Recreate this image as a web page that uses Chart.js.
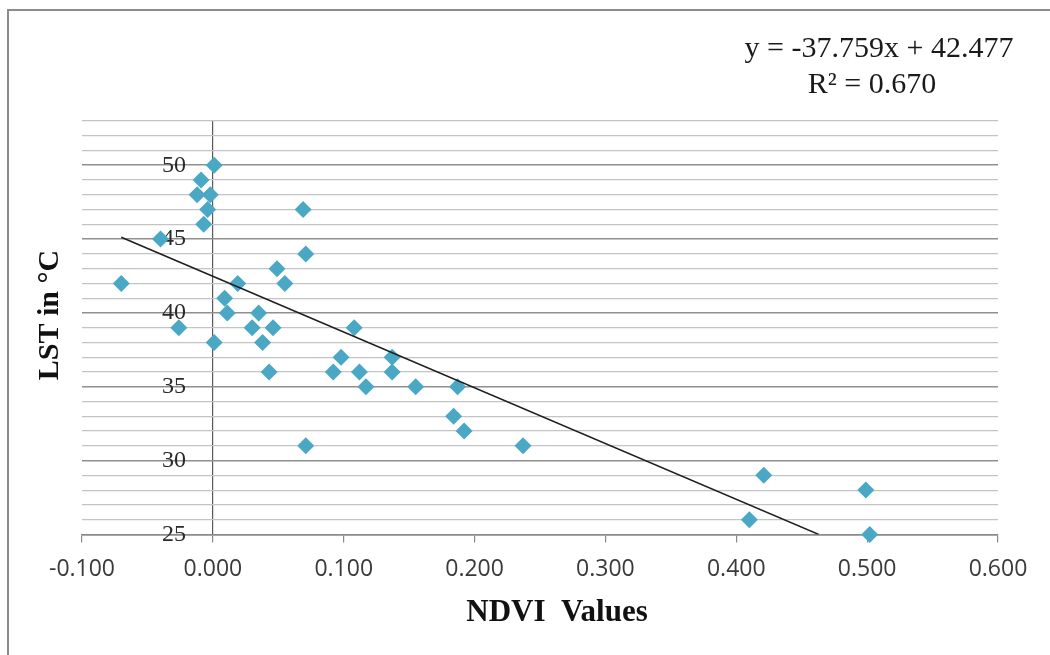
<!DOCTYPE html>
<html>
<head>
<meta charset="utf-8">
<script src="https://cdn.jsdelivr.net/npm/chart.js@4.4.1/dist/chart.umd.min.js"></script>
<style>
  html, body { margin: 0; padding: 0; background: #ffffff; }
  #wrap { width: 1050px; height: 655px; position: relative; }
</style>
</head>
<body>
<div id="wrap"><canvas id="c" width="1050" height="655"></canvas></div>
<script>
// ---- data ----
const ndviValues = [-0.070, -0.040, -0.026, -0.009, -0.012, -0.002, -0.004, -0.007, 0.001, 0.001,
                    0.009, 0.011, 0.019, 0.030, 0.035, 0.038, 0.046, 0.043, 0.049, 0.055,
                    0.069, 0.071, 0.071, 0.108, 0.098, 0.092, 0.112, 0.117, 0.137, 0.137,
                    0.155, 0.187, 0.184, 0.192, 0.237, 0.410, 0.421, 0.499, 0.502];
const lstValues  = [42, 45, 39, 49, 48, 48, 47, 46, 50, 38,
                    41, 40, 42, 39, 40, 38, 39, 36, 43, 42,
                    47, 44, 31, 39, 37, 36, 36, 35, 37, 36,
                    35, 35, 33, 32, 31, 26, 29, 28, 25];
const trendX = [-0.070, 0.463];
const trendY = [45.12, 25.0];
const xTickValues = [-0.1, 0.0, 0.1, 0.2, 0.3, 0.4, 0.5, 0.6];
const yLabelValues = [25, 30, 35, 40, 45, 50];
const equationText = "y = -37.759x + 42.477";
const r2Text = "R\u00B2 = 0.670";
const xTitle = "NDVI  Values";
const yTitle = "LST in \u00B0C";

const scatterPoints = ndviValues.map((x, i) => ({ x: x, y: lstValues[i] }));
const trendPoints = trendX.map((x, i) => ({ x: x, y: trendY[i] }));

const decorPlugin = {
  id: 'decor',
  afterDraw(chart) {
    const ctx = chart.ctx;
    ctx.save();
    // outer frame
    ctx.strokeStyle = '#8c8c8c';
    ctx.lineWidth = 2;
    ctx.beginPath();
    ctx.moveTo(8, 660);
    ctx.lineTo(8, 10);
    ctx.lineTo(1060, 10);
    ctx.stroke();
    // equation
    ctx.fillStyle = '#1a1a1a';
    ctx.font = '30px "Liberation Serif", "Times New Roman", serif';
    ctx.textAlign = 'center';
    ctx.textBaseline = 'alphabetic';
    ctx.fillText(equationText, 879, 57);
    ctx.fillText(r2Text, 872, 93);
    // axis titles
    ctx.fillStyle = '#111';
    ctx.font = 'bold 31px "Liberation Serif", "Times New Roman", serif';
    ctx.textBaseline = 'middle';
    ctx.fillText(xTitle, 557, 613);
    ctx.translate(50, 315);
    ctx.rotate(-Math.PI / 2);
    ctx.font = 'bold 30px "Liberation Serif", "Times New Roman", serif';
    ctx.fillText(yTitle, 0, 0);
    ctx.restore();
  }
};

new Chart(document.getElementById('c'), {
  type: 'scatter',
  data: {
    datasets: [
      {
        type: 'line',
        label: 'Trend',
        data: trendPoints,
        borderColor: '#1f1f1f',
        borderWidth: 1.6,
        pointRadius: 0,
        fill: false,
        order: 0
      },
      {
        label: 'LST',
        data: scatterPoints,
        pointStyle: 'rectRot',
        pointRadius: 8.5,
        pointHoverRadius: 8.5,
        backgroundColor: '#4aa8c4',
        borderColor: '#4aa8c4',
        borderWidth: 0,
        clip: false,
        order: 1
      }
    ]
  },
  options: {
    responsive: false,
    animation: false,
    devicePixelRatio: 1,
    layout: { padding: { left: 82, right: 52, top: 121, bottom: 59 } },
    plugins: { legend: { display: false }, tooltip: { enabled: false } },
    scales: {
      x: {
        type: 'linear',
        min: -0.1,
        max: 0.6,
        afterBuildTicks(scale) { scale.ticks = xTickValues.map(v => ({ value: v })); },
        ticks: {
          callback: v => Number(v).toFixed(3),
          font: { family: '"Open Sans", sans-serif', size: 23 },
          color: '#3a3a3a',
          padding: 13,
          maxRotation: 0,
          autoSkip: false
        },
        grid: {
          drawOnChartArea: true,
          color: ctx => (ctx.tick && Math.abs(ctx.tick.value) < 1e-9) ? '#5a5a5a' : 'rgba(0,0,0,0)',
          lineWidth: 1.2,
          tickColor: '#8a8a8a',
          tickLength: 8,
          drawTicks: true
        },
        border: { display: true, color: '#8a8a8a', width: 1.5 }
      },
      y: {
        type: 'linear',
        position: 'left',
        min: 25,
        max: 53,
        afterFit(scale) { scale.width = 0; },
        ticks: {
          stepSize: 1,
          mirror: true,
          padding: 80,
          callback: v => (yLabelValues.includes(v) ? String(v) : ''),
          font: { family: '"Liberation Serif", "Times New Roman", serif', size: 24 },
          color: '#2a2a2a',
          autoSkip: false
        },
        grid: {
          drawTicks: false,
          color: ctx => (ctx.tick && ctx.tick.value % 5 === 0) ? '#8f8f8f' : '#c4c4c4',
          lineWidth: ctx => (ctx.tick && ctx.tick.value % 5 === 0) ? 1.6 : 1.2
        },
        border: { display: false }
      }
    }
  },
  plugins: [decorPlugin]
});
</script>
</body>
</html>
